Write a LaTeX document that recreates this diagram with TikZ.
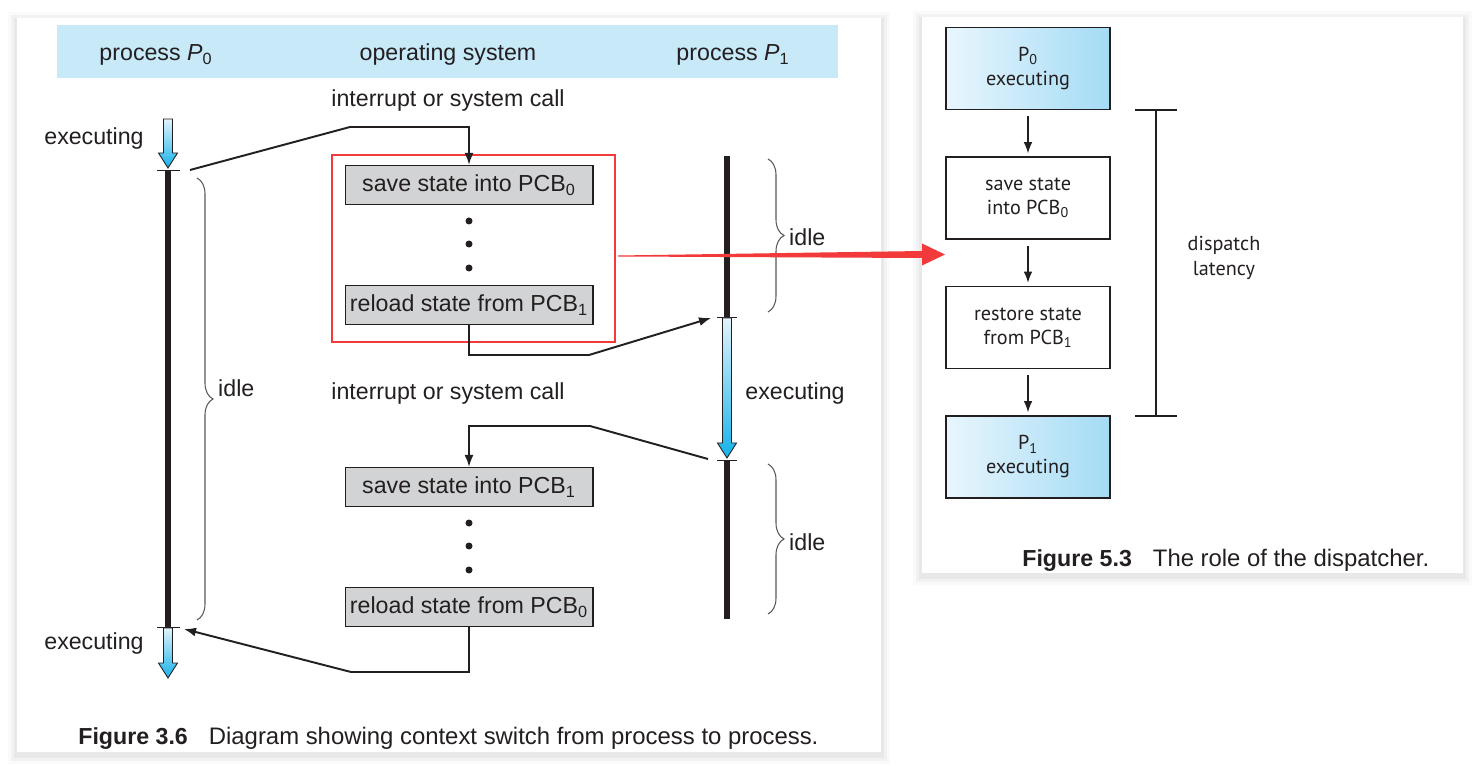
\documentclass[tikz,border=0pt]{standalone}
\usepackage{fontspec}
\setmainfont{Liberation Sans}
\newfontfamily\myriad{PT Sans}
\usetikzlibrary{shapes, arrows, arrows.meta, positioning, shadows, calc, decorations.pathreplacing}
\definecolor{bandblue}{RGB}{199,233,248}
\definecolor{pcbgray}{RGB}{209,211,212}
\definecolor{inkblack}{RGB}{35,31,32}
\definecolor{alertred}{RGB}{242,58,58}
\definecolor{execlight}{RGB}{226,243,251}
\definecolor{execdark}{RGB}{20,178,234}
\definecolor{boxlight}{RGB}{232,246,253}
\definecolor{boxdark}{RGB}{164,219,245}
\tikzstyle{pcbbox} = [draw=inkblack, fill=pcbgray, line width=0.6pt, rectangle, minimum width=4.96cm, minimum height=0.78cm, inner sep=0pt]
\tikzstyle{bullet} = [circle, fill=inkblack, inner sep=0pt, minimum size=0.14cm]
\tikzstyle{switchline} = [draw=inkblack, line width=1.1pt, -{Latex[length=0.24cm, width=0.18cm]}]
\tikzstyle{runbar} = [draw=inkblack, line width=2.9pt]
\tikzstyle{tickline} = [draw=inkblack, line width=0.5pt]
\tikzstyle{idlebrace} = [draw=inkblack!75, line width=0.6pt, decorate, decoration={brace, amplitude=0.32cm}]
\tikzstyle{execfill} = [draw=inkblack, line width=0.5pt, top color=execlight, bottom color=execdark]
\tikzstyle{flowbox} = [draw=inkblack, line width=0.85pt, rectangle, minimum width=3.28cm, minimum height=1.64cm, align=center, font=\myriad\fontsize{11.5}{13.6}\selectfont]
\tikzstyle{runbox} = [flowbox, left color=boxlight, right color=boxdark]
\tikzstyle{flowarrow} = [draw=inkblack, line width=0.6pt, -{Latex[length=0.22cm, width=0.17cm]}, shorten <=0.12cm, shorten >=0.06cm]
\tikzstyle{latline} = [draw=inkblack, line width=0.7pt]
\tikzstyle{redframe} = [draw=alertred, line width=1.6pt, rectangle, minimum width=5.66cm, minimum height=3.74cm, inner sep=0pt]
\newcommand{\execarrow}[3]{\path[execfill] (#1-4.5,#2) -- (#1+4.5,#2) -- (#1+4.5,#3-15) -- (#1+9.5,#3-15) -- (#1,#3) -- (#1-9.5,#3-15) -- (#1-4.5,#3-15) -- cycle;}

\begin{document}
\begin{tikzpicture}[x=0.02cm, y=-0.02cm, font=\fontsize{13.2}{15.8}\selectfont, text=inkblack]
\useasboundingbox (0,0) rectangle (1480,766);
\foreach \s/\o in {9/0.02,6/0.03,3/0.045} {
  \fill[black, opacity=\o] (17-\s,18-\s+3) rectangle (881+\s,752+\s+3);
  \fill[black, opacity=\o] (922-\s,17-\s+3) rectangle (1463+\s,573+\s+3);
}
\fill[white] (17,18) rectangle (881,752);
\fill[white] (922,17) rectangle (1463,573);

\fill[bandblue] (57,25) rectangle (838,78);
\node (headp0) at (156,55) {process \textit{P}\textsubscript{0}};
\node (heados) at (448,55) {operating system};
\node (headp1) at (733,55) {process \textit{P}\textsubscript{1}};

\node (call0) at (448,101) {interrupt or system call};
\node[pcbbox] (save0) at (469,185) {save state into PCB\textsubscript{0}};
\node[bullet] (dot0a) at (469,221) {};
\node[bullet] (dot0b) at (469,244) {};
\node[bullet] (dot0c) at (469,268) {};
\node[pcbbox] (reload1) at (469,305) {reload state from PCB\textsubscript{1}};
\node[redframe] (redbox) at (473.5,248.5) {};

\node (call1) at (448,394) {interrupt or system call};
\node[pcbbox] (save1) at (469,487) {save state into PCB\textsubscript{1}};
\node[bullet] (dot1a) at (469,523) {};
\node[bullet] (dot1b) at (469,546) {};
\node[bullet] (dot1c) at (469,570) {};
\node[pcbbox] (reload0) at (469,607) {reload state from PCB\textsubscript{0}};

\coordinate (p0start) at (168,170);
\coordinate (p0end) at (168,627);
\draw[runbar] (p0start) -- (p0end);
\draw[tickline] ($(p0start)+(-11,0)$) -- ++(23,0);
\draw[tickline] ($(p0end)+(-11,0)$) -- ++(23,0);
\execarrow{168}{119}{168}
\execarrow{168}{628}{678}
\node (exec0a) at (94,139) {executing};
\node (exec0b) at (94,644) {executing};
\draw[idlebrace] (197,178) -- (197,620);
\node[right] (idle0) at (212,388) {idle};

\coordinate (p1start) at (727,156);
\coordinate (p1run) at (727,317);
\coordinate (p1stop) at (727,460);
\coordinate (p1end) at (727,619);
\draw[runbar] (p1start) -- (p1run);
\draw[runbar] (p1stop) -- (p1end);
\draw[tickline] ($(p1run)+(-10,0)$) -- ++(20,0);
\draw[tickline] ($(p1stop)+(-10,0)$) -- ++(20,0);
\execarrow{727}{318}{458}
\node (exec1) at (795,394) {executing};
\draw[idlebrace] (768,159) -- (768,312);
\node[right] (idle1a) at (783,237) {idle};
\draw[idlebrace] (768,464) -- (768,614);
\node[right] (idle1b) at (783,542) {idle};

\draw[switchline] ($(p0start)+(22,0)$) -- (350,127) -| (save0.north);
\draw[switchline] (reload1.south) |- (589,355) -- ($(p1run)+(-16,1)$);
\draw[switchline] ($(p1stop)+(-19,-1)$) -- (590,426) -| (save1.north);
\draw[switchline] (reload0.south) |- (351,672) -- ($(p0end)+(16,2)$);

\node[anchor=west, inner sep=0pt] (caption36) at (78,738) {\textbf{Figure 3.6}\hspace{0.42cm}{\fontsize{13.6}{15.8}\selectfont Diagram showing context switch from process to process.}};

\node[runbox] (runp0) at (1028,68.5) {P\textsubscript{0}\\executing};
\node[flowbox, below=0.92cm of runp0] (savepcb) {save state\\into PCB\textsubscript{0}};
\node[flowbox, below=0.92cm of savepcb] (restorepcb) {restore state\\from PCB\textsubscript{1}};
\node[runbox, below=0.92cm of restorepcb] (runp1) {P\textsubscript{1}\\executing};
\draw[flowarrow] (runp0) -- (savepcb);
\draw[flowarrow] (savepcb) -- (restorepcb);
\draw[flowarrow] (restorepcb) -- (runp1);

\coordinate (lattop) at (1156,110);
\coordinate (latbot) at (1156,416);
\draw[latline] (lattop) -- (latbot);
\draw[latline] ($(lattop)+(-21,0)$) -- ++(42,0);
\draw[latline] ($(latbot)+(-21,0)$) -- ++(42,0);
\node[align=center, font=\myriad\fontsize{11.5}{14.4}\selectfont] (latency) at (1224,258) {dispatch\\latency};

\node[anchor=west, inner sep=0pt] (caption53) at (1022,560) {\textbf{Figure 5.3}\hspace{0.42cm}{\fontsize{13.6}{15.8}\selectfont The role of the dispatcher.}};

\coordinate (redtail) at (618,255.5);
\coordinate (redtip) at (945,254.5);
\fill[alertred] (redtail) -- ($(redtip)+(-23,-3.5)$) -- ($(redtip)+(-23,-11)$) -- (redtip) -- ($(redtip)+(-23,11)$) -- ($(redtip)+(-23,3.5)$) -- ($(redtail)+(0,1)$) -- cycle;
\end{tikzpicture}
\end{document}
